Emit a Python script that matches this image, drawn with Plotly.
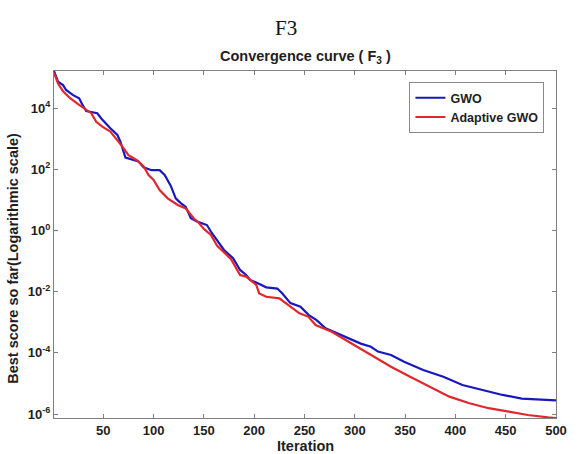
import plotly.graph_objects as go

# ---- data ----
gwo_iter = [1, 5, 10, 13, 20, 26, 29, 33, 44, 48, 57, 64, 67, 72, 85, 90, 98, 106, 111, 117,
            122, 127, 132, 137, 144, 153, 158, 170, 179, 186, 192, 196, 202, 209, 212, 223,
            228, 236, 246, 254, 262, 271, 290, 306, 316, 323, 336, 349, 368, 388, 407, 427,
            447, 466, 486, 500]
gwo_score = [1.62e5, 7.24e4, 5.62e4, 3.89e4, 2.63e4, 2.09e4, 1.32e4, 7.94e3, 6.76e3, 4.57e3,
             2.19e3, 1.32e3, 794, 240, 178, 115, 93, 93, 65, 29,
             11.2, 7.8, 5.9, 2.5, 1.9, 1.5, 0.81, 0.23, 0.123, 0.051,
             0.035, 0.024, 0.020, 0.016, 0.0138, 0.0126, 8.7e-3, 4.2e-3, 3.2e-3, 1.74e-3,
             1.17e-3, 6.3e-4, 3.4e-4, 2.0e-4, 1.58e-4, 1.10e-4, 8.5e-5, 5.1e-5, 2.75e-5, 1.66e-5,
             8.9e-6, 6.0e-6, 4.2e-6, 3.2e-6, 2.9e-6, 2.8e-6]

agwo_iter = [1, 5, 10, 17, 26, 38, 43, 49, 57, 64, 69, 75, 83, 90, 95, 100, 106, 114, 124, 132,
             140, 144, 150, 157, 163, 177, 186, 192, 202, 205, 212, 225, 235, 245, 254, 261,
             277, 297, 316, 336, 355, 375, 394, 414, 433, 453, 472, 492, 500]
agwo_score = [1.41e5, 6.3e4, 3.55e4, 2.09e4, 1.26e4, 6.8e3, 3.55e3, 2.45e3, 1.70e3, 890,
              550, 290, 200, 126, 65, 45, 21, 11.2, 6.8, 5.2,
              2.45, 1.9, 1.12, 0.71, 0.32, 0.115, 0.035, 0.031, 0.0166, 8.7e-3,
              6.8e-3, 6.0e-3, 3.5e-3, 1.95e-3, 1.5e-3, 8.1e-4, 4.9e-4, 2.0e-4, 8.5e-5, 3.5e-5,
              1.66e-5, 7.8e-6, 3.7e-6, 2.24e-6, 1.55e-6, 1.20e-6, 9.3e-7, 7.8e-7, 7.4e-7]

x_ticks = [50, 100, 150, 200, 250, 300, 350, 400, 450, 500]
y_tick_exp = [-6, -4, -2, 0, 2, 4]

FONT = "Liberation Sans, Arial, sans-serif"
AXIS_GRAY = "#7f7f7f"
TXT = "#1e1e1e"

fig = go.Figure()
fig.add_trace(go.Scatter(x=gwo_iter, y=gwo_score, mode="lines", name="GWO",
                         line=dict(color="#1818C0", width=2.2)))
fig.add_trace(go.Scatter(x=agwo_iter, y=agwo_score, mode="lines", name="Adaptive GWO",
                         line=dict(color="#E0282C", width=2.2)))

fig.update_layout(
    width=579, height=454,
    margin=dict(l=54, r=14, t=71, b=36),
    paper_bgcolor="white", plot_bgcolor="white",
    font=dict(family=FONT, size=12, color=TXT),
    showlegend=True,
    legend=dict(x=0.708, y=0.968, xanchor="left", yanchor="top",
                bgcolor="white", bordercolor="#8a8a8a", borderwidth=1,
                font=dict(family=FONT, size=12.5, color=TXT, weight="bold"),
                tracegroupgap=0, itemwidth=30),
)

fig.update_xaxes(
    range=[1, 500], tickvals=x_ticks, ticktext=[str(v) for v in x_ticks],
    ticks="inside", ticklen=4, tickcolor=AXIS_GRAY,
    showline=True, linecolor=AXIS_GRAY, linewidth=1, mirror="ticks",
    showgrid=False, zeroline=False,
    tickfont=dict(family=FONT, size=13, color=TXT, weight="bold"),
)
fig.update_yaxes(
    type="log", range=[-6.13, 5.21],
    tickvals=[10.0 ** e for e in y_tick_exp],
    ticktext=["10<sup>%d</sup>" % e for e in y_tick_exp],
    ticks="inside", ticklen=4, tickcolor=AXIS_GRAY,
    showline=True, linecolor=AXIS_GRAY, linewidth=1, mirror="ticks",
    showgrid=False, zeroline=False,
    tickfont=dict(family=FONT, size=13, color=TXT, weight="bold"),
)

fig.add_annotation(text="F3", xref="paper", yref="paper",
                   x=(290 - 54) / 511, y=(418 - 28) / 347, xanchor="center", yanchor="middle",
                   showarrow=False,
                   font=dict(family="Liberation Serif, Times New Roman, serif", size=21, color="#111111"))
fig.add_annotation(text="Convergence curve ( F<sub>3</sub> )", xref="paper", yref="paper",
                   x=0.5, y=(418 - 57) / 347, xanchor="center", yanchor="middle",
                   showarrow=False,
                   font=dict(family=FONT, size=14.5, color=TXT, weight="bold"))
fig.add_annotation(text="Iteration", xref="paper", yref="paper",
                   x=0.5, y=-(446 - 418) / 347, xanchor="center", yanchor="middle",
                   showarrow=False,
                   font=dict(family=FONT, size=14.5, color=TXT, weight="bold"))
fig.add_annotation(text="Best score so far(Logarithmic scale)", xref="paper", yref="paper",
                   x=-(54 - 12) / 511, y=(418 - 258) / 347, xanchor="center", yanchor="middle",
                   textangle=-90, showarrow=False,
                   font=dict(family=FONT, size=14.5, color=TXT, weight="bold"))

fig.write_html("out.html")
